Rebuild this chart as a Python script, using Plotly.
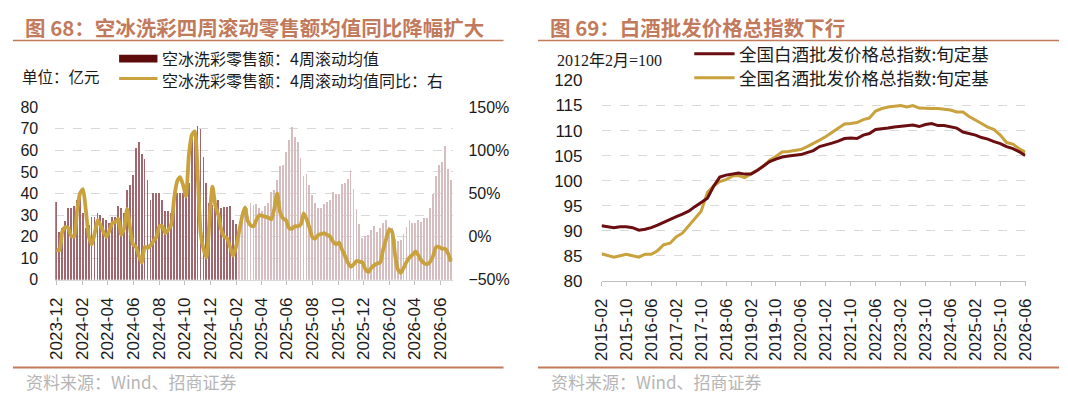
import pandas as pd
import plotly.graph_objects as go

W, H = 1068, 408

# ---------------- Left chart data (weekly) ----------------
retail_sales = [36, 22, 24, 27, 33, 33, 34, 37, 39, 31,
                24, 25.5, 29, 29, 31, 30, 28.5, 27.5, 26, 29,
                29, 34, 33, 31, 41.5, 44, 48.5, 61, 64, 58,
                56, 46, 37, 40, 40, 40, 37, 32, 32, 31,
                40, 40, 40, 40, 40, 45, 66, 69, 71.3, 70,
                57, 45, 35.5, 34.6, 34.5, 36.7, 33, 33.7, 33.7, 34,
                27.5, 25.8, 23, 30.5, 34, 33.4, 35.6, 34.6, 35.2, 33,
                32, 34, 35.6, 40.8, 41.5, 46, 52.6, 53.3, 59.2, 64.7,
                70.5, 66, 63.6, 56.5, 48, 49, 44, 39, 35.3, 33.4,
                33, 35, 36, 36.7, 40.5, 39.6, 39.8, 44.5, 45, 46.7,
                50.8, 42, 32.7, 25.8, 19.4, 20.2, 20.5, 23, 25, 22,
                24, 26.4, 27.5, 24.6, 24, 19, 18, 18.5, 21, 24.3,
                27.5, 26.4, 26, 27.8, 26.8, 28.7, 28.7, 33.4, 39.8, 47.9,
                53.3, 54.3, 61.7, 51.4, 46]

retail_yoy = [-15, -16, 6, 11, 10, 1, 0, 30, 50, 55,
              30, 0, -9, 4, 19, 13, 5, 0, 7, 16,
              17, 21, 2, 10, 32, 10, -9, -12, -22, -30,
              -12, -13, -10, -5, 0, 12, 12, 4, 8, 14,
              45, 64, 69, 60, 47, 95, 118, 122, 70, 4,
              -15, -24, 20, 58, 36, 25, 8, 0, -2, -12,
              -22, -12, 5, 22, 34, 18, 13, 12, 20, 25,
              24, 23, 22, 20, 32, 50, 28, 21, 19, 10,
              9, 12, 12, 14, 27, 20, 10, -1, -2, 2,
              3, 4, 2, 0, -6, -9, -7, -15, -22, -30,
              -35, -32, -28, -29, -30, -38, -41, -36, -33, -31,
              -30, -15, -3, 8, 6, -20, -38, -42, -36, -29,
              -24, -21, -17, -22, -28, -31, -32, -29, -22, -12,
              -12, -14, -14, -19, -29]

left_dates = pd.date_range("2023-12-01", periods=len(retail_sales), freq="7D")
left_tick_labels = ["2023-12", "2024-02", "2024-04", "2024-06", "2024-08", "2024-10",
                    "2024-12", "2025-02", "2025-04", "2025-06", "2025-08", "2025-10",
                    "2025-12", "2026-02", "2026-04", "2026-06"]

# ---------------- Right chart data (every 2 months) ----------------
baijiu_index = [91.0, 90.8, 90.6, 90.8, 90.8, 90.6, 90.1, 90.3, 90.6, 91.1,
                91.7, 92.2, 92.8, 93.3, 93.9, 94.8, 95.6, 96.5, 98.9, 100.7,
                101.1, 101.3, 101.5, 101.3, 101.3, 102.0, 102.9, 103.8, 104.3, 104.7,
                104.9, 105.0, 105.2, 105.6, 106.0, 106.8, 107.1, 107.5, 107.9, 108.4,
                108.5, 108.4, 109.1, 109.4, 110.2, 110.3, 110.5, 110.7, 110.8, 110.9,
                111.1, 110.8, 111.2, 111.4, 111.0, 111.0, 110.8, 110.5, 109.7, 109.4,
                109.1, 108.6, 108.3, 107.8, 107.4, 106.8, 106.4, 105.8, 105.0]

mingjiu_index = [85.4, 85.0, 84.7, 85.0, 85.3, 85.0, 84.7, 85.3, 85.3, 86.0,
                 87.2, 87.5, 88.8, 89.5, 90.9, 92.5, 93.9, 97.6, 99.0, 99.8,
                 100.2, 100.9, 101.0, 100.6, 101.3, 102.1, 102.9, 104.1, 104.8, 105.7,
                 105.8, 106.0, 106.2, 106.8, 107.4, 108.1, 108.8, 109.6, 110.4, 111.3,
                 111.4, 111.6, 112.2, 112.5, 113.9, 114.4, 114.7, 114.9, 115.0, 114.7,
                 115.0, 114.5, 114.4, 114.4, 114.4, 114.3, 114.1, 113.7, 113.7, 112.8,
                 112.0, 111.4, 110.7, 110.2, 109.1, 107.6, 107.3, 106.4, 105.7]

right_dates = pd.date_range("2015-02-01", periods=len(baijiu_index), freq="2MS")
right_tick_labels = ["2015-02", "2015-10", "2016-06", "2017-02", "2017-10", "2018-06",
                     "2019-02", "2019-10", "2020-06", "2021-02", "2021-10", "2022-06",
                     "2023-02", "2023-10", "2024-06", "2025-02", "2025-10", "2026-06"]

# ---------------- styles ----------------
TITLE_C = "#C27A5C"
DARK = "#6B0E12"
GOLD = "#C9A23E"
GRID = "#D9D9D9"
CJK = "Noto Sans CJK SC"
NUM = "Liberation Sans, Arial, sans-serif"

bar_colors = ["#A0686E" if i <= 61 else "#D6BDC0" for i in range(len(retail_sales))]

fig = go.Figure()
fig.add_trace(go.Bar(x=left_dates, y=retail_sales, marker_color=bar_colors,
                     marker_line_width=0, width=2.0 * 86400000,
                     xaxis="x", yaxis="y", showlegend=False))
fig.add_trace(go.Scatter(x=left_dates, y=retail_yoy, mode="lines",
                         line=dict(color=GOLD, width=3.8, shape="spline", smoothing=0.6),
                         xaxis="x", yaxis="y2", showlegend=False))
fig.add_trace(go.Scatter(x=right_dates, y=mingjiu_index, mode="lines",
                         line=dict(color=GOLD, width=3),
                         xaxis="x2", yaxis="y3", showlegend=False))
fig.add_trace(go.Scatter(x=right_dates, y=baijiu_index, mode="lines",
                         line=dict(color=DARK, width=3),
                         xaxis="x2", yaxis="y3", showlegend=False))

def px(x):
    return x / W

def py(y):
    return 1 - y / H

tickfont = dict(family=NUM, size=16, color="#1a1a1a")
xtickfont = dict(family=NUM, size=17, color="#1a1a1a")

fig.update_layout(
    width=W, height=H, margin=dict(l=0, r=0, t=0, b=0),
    paper_bgcolor="white", plot_bgcolor="white", bargap=0,
    xaxis=dict(domain=[px(47), px(452)], anchor="y", type="date",
               range=["2023-11-28", "2026-07-02"],
               tickvals=[f"{t}-01" for t in left_tick_labels], ticktext=left_tick_labels,
               tickangle=-90, tickfont=xtickfont, showgrid=False,
               showline=True, linecolor=GRID, linewidth=1,
               ticks="outside", ticklen=4, tickcolor="#BFBFBF", ticklabelstandoff=6),
    yaxis=dict(domain=[py(284), py(103)], anchor="x", range=[0, 80], dtick=10,
               tickfont=tickfont, showgrid=True, gridcolor=GRID, griddash="dash",
               gridwidth=1, zeroline=False, showline=False, ticklabelstandoff=16),
    yaxis2=dict(overlaying="y", anchor="x", side="right", range=[-50, 150], dtick=50,
                ticksuffix="%", tickfont=tickfont, showgrid=False, zeroline=False,
                showline=False, ticklabelstandoff=14),
    xaxis2=dict(domain=[px(602.7), px(1034)], anchor="y3", type="date",
                range=["2015-02-01", "2026-06-05"],
                tickvals=[f"{t}-01" for t in right_tick_labels], ticktext=right_tick_labels,
                tickangle=-90, tickfont=xtickfont, showgrid=False,
                showline=True, linecolor="#BFBFBF", linewidth=1,
                ticks="outside", ticklen=4, tickcolor="#BFBFBF", ticklabelstandoff=6),
    yaxis3=dict(domain=[py(285), py(75)], anchor="x2", range=[80, 120], dtick=5,
                tickfont=dict(family=NUM, size=17, color="#1a1a1a"),
                showgrid=True, gridcolor=GRID, griddash="dash",
                gridwidth=1, zeroline=False, showline=False, ticklabelstandoff=18),
)

shapes = []
# title underlines and footer lines
for x0, x1 in [(4, 503), (538, 1068)]:
    shapes.append(dict(type="line", xref="paper", yref="paper", x0=px(x0), x1=px(x1),
                       y0=py(33), y1=py(33), line=dict(color=TITLE_C, width=1.5)))
    shapes.append(dict(type="line", xref="paper", yref="paper", x0=px(x0), x1=px(x1),
                       y0=py(376), y1=py(376), line=dict(color=TITLE_C, width=2)))
# legend markers
shapes.append(dict(type="rect", xref="paper", yref="paper", x0=px(112), x1=px(151),
                   y0=py(56), y1=py(48), fillcolor="#5E0B0B", line=dict(width=0)))
shapes.append(dict(type="line", xref="paper", yref="paper", x0=px(112), x1=px(151),
                   y0=py(73), y1=py(73), line=dict(color=GOLD, width=3)))
shapes.append(dict(type="line", xref="paper", yref="paper", x0=px(697), x1=px(738),
                   y0=py(47), y1=py(47), line=dict(color=DARK, width=3)))
shapes.append(dict(type="line", xref="paper", yref="paper", x0=px(697), x1=px(738),
                   y0=py(72), y1=py(72), line=dict(color=GOLD, width=3)))
fig.update_layout(shapes=shapes)

def ann(text, x, y, size, color="#1a1a1a", family=CJK, xanchor="left", bold=False):
    t = f"<b>{text}</b>" if bold else text
    return dict(text=t, x=px(x), y=py(y), xref="paper", yref="paper",
                xanchor=xanchor, yanchor="middle", showarrow=False, borderpad=0,
                font=dict(family=family, size=size, color=color))

annotations = [
    ann("图 68：空冰洗彩四周滚动零售额均值同比降幅扩大", 15, 19, 20.5, TITLE_C, bold=True),
    ann("图 69：白酒批发价格总指数下行", 549, 19, 20.5, TITLE_C, bold=True),
    ann("单位：亿元", 12, 70, 15.5),
    ann("空冰洗彩零售额：4周滚动均值", 155, 51, 16),
    ann("空冰洗彩零售额：4周滚动均值同比：右", 155, 74, 16),
    ann("2012年2月=100", 556, 54, 16, family="Liberation Serif, " + CJK),
    ann("全国白酒批发价格总指数:旬定基", 741, 47, 17.5),
    ann("全国名酒批发价格总指数:旬定基", 741, 72, 17.5),
    ann("资料来源：Wind、招商证券", 16, 391, 17, "#B5B5B5"),
    ann("资料来源：Wind、招商证券", 550, 391, 17, "#B5B5B5"),
]
fig.update_layout(annotations=annotations)

fig.write_html("out.html", config={"displayModeBar": False},
               post_script="document.body.style.margin='0';document.body.style.overflow='hidden';")
